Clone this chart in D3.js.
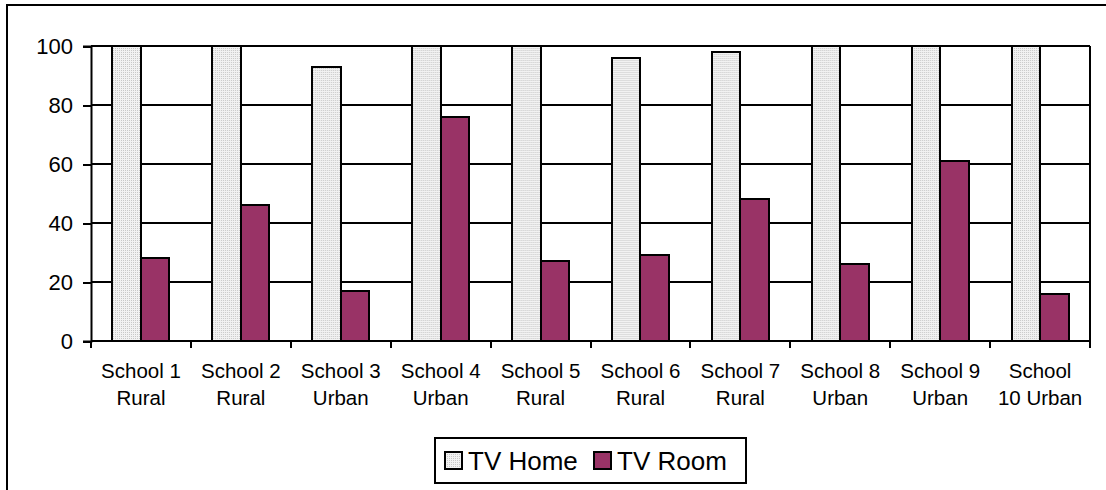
<!DOCTYPE html>
<html>
<head>
<meta charset="utf-8">
<title>TV Home / TV Room</title>
<script src="https://cdn.jsdelivr.net/npm/d3@7"></script>
<style>
html, body { margin: 0; background: #fff; }
body { font-family: "Liberation Sans", Arial, sans-serif; }
line, rect { shape-rendering: crispEdges; }
</style>
</head>
<body>
<svg width="1106" height="490"></svg>
<script>
// chart data
var categories = ["School 1 Rural", "School 2 Rural", "School 3 Urban", "School 4 Urban", "School 5 Rural",
                  "School 6 Rural", "School 7 Rural", "School 8 Urban", "School 9 Urban", "School 10 Urban"];
var categoryLines = [["School 1", "Rural"], ["School 2", "Rural"], ["School 3", "Urban"], ["School 4", "Urban"],
                     ["School 5", "Rural"], ["School 6", "Rural"], ["School 7", "Rural"], ["School 8", "Urban"],
                     ["School 9", "Urban"], ["School", "10 Urban"]];
var seriesNames = ["TV Home", "TV Room"];
var tvHome = [100, 100, 93, 100, 100, 96, 98, 100, 100, 100];
var tvRoom = [28, 46, 17, 76, 27, 29, 48, 26, 61, 16];
var yTicks = [0, 20, 40, 60, 80, 100];

var svg = d3.select("svg");
var plot = {left: 91, right: 1090, top: 46, bottom: 341};

// dotted light fill like the old excel pattern
var defs = svg.append("defs");
var pat = defs.append("pattern")
    .attr("id", "dots")
    .attr("width", 2).attr("height", 2)
    .attr("patternUnits", "userSpaceOnUse");
pat.append("rect").attr("width", 2).attr("height", 2).attr("fill", "#f2f2f2");
pat.append("rect").attr("width", 1).attr("height", 1).attr("fill", "#c8c8c8");

var colors = {"TV Home": "url(#dots)", "TV Room": "#993366"};

// outer chart border (runs off the picture on right and bottom)
svg.append("rect")
    .attr("x", 7).attr("y", 5)
    .attr("width", 1110).attr("height", 500)
    .attr("fill", "none").attr("stroke", "#000").attr("stroke-width", 2);

var x0 = d3.scaleBand().domain(categories).range([plot.left, plot.right]).padding(0);
var x1 = d3.scaleBand().domain(seriesNames).range([0, x0.bandwidth()]).paddingInner(0).paddingOuter(0.754);
var y = d3.scaleLinear().domain([0, 100]).range([plot.bottom, plot.top]);

// gridlines
svg.append("g").selectAll("line")
    .data(yTicks.filter(function(d) { return d > 0; }))
    .enter().append("line")
    .attr("x1", plot.left).attr("x2", plot.right)
    .attr("y1", function(d) { return y(d); })
    .attr("y2", function(d) { return y(d); })
    .attr("stroke", "#000").attr("stroke-width", 2);

// right border of plot area
svg.append("line")
    .attr("x1", plot.right).attr("x2", plot.right)
    .attr("y1", plot.top).attr("y2", plot.bottom)
    .attr("stroke", "#000").attr("stroke-width", 2);

var rows = categories.map(function(c, i) {
    return {cat: c, values: [{s: "TV Home", v: tvHome[i]}, {s: "TV Room", v: tvRoom[i]}]};
});

var groups = svg.append("g").selectAll("g")
    .data(rows)
    .enter().append("g")
    .attr("transform", function(d) { return "translate(" + x0(d.cat) + ",0)"; });

groups.selectAll("rect")
    .data(function(d) { return d.values; })
    .enter().append("rect")
    .attr("x", function(d) { return x1(d.s); })
    .attr("y", function(d) { return y(d.v); })
    .attr("width", x1.bandwidth())
    .attr("height", function(d) { return y(0) - y(d.v); })
    .attr("fill", function(d) { return colors[d.s]; })
    .attr("stroke", "#000").attr("stroke-width", 2);

// y axis
var yAxis = svg.append("g")
    .attr("transform", "translate(" + plot.left + ",0)")
    .call(d3.axisLeft(y).tickValues(yTicks).tickSize(8).tickPadding(10));
yAxis.selectAll("path, line").attr("stroke", "#000").attr("stroke-width", 2);
yAxis.selectAll("text").attr("font-size", 22).attr("fill", "#000")
    .attr("font-family", "Liberation Sans, Arial, sans-serif");

// x axis, ticks between categories
var xAxis = svg.append("g").attr("transform", "translate(0," + plot.bottom + ")");
xAxis.append("line")
    .attr("x1", plot.left).attr("x2", plot.right)
    .attr("stroke", "#000").attr("stroke-width", 2);
xAxis.selectAll("line.tick")
    .data(categories.concat(["end"]))
    .enter().append("line")
    .attr("class", "tick")
    .attr("x1", function(d, i) { return plot.left + i * x0.step(); })
    .attr("x2", function(d, i) { return plot.left + i * x0.step(); })
    .attr("y1", 0).attr("y2", 7)
    .attr("stroke", "#000").attr("stroke-width", 2);

var labels = xAxis.selectAll("text.cat")
    .data(categories)
    .enter().append("text")
    .attr("class", "cat")
    .attr("text-anchor", "middle")
    .attr("font-size", 20.5)
    .attr("fill", "#000")
    .attr("transform", function(d) { return "translate(" + (x0(d) + x0.bandwidth() / 2) + ",37)"; });
labels.selectAll("tspan")
    .data(function(d, i) { return categoryLines[i]; })
    .enter().append("tspan")
    .attr("x", 0)
    .attr("dy", function(d, i) { return i === 0 ? 0 : 27; })
    .text(function(d) { return d; });

// legend
var legend = svg.append("g").attr("transform", "translate(435,438)");
legend.append("rect")
    .attr("width", 311).attr("height", 45)
    .attr("fill", "#fff").attr("stroke", "#000").attr("stroke-width", 2);
var legX = [10, 159];
var item = legend.selectAll("g.item")
    .data(seriesNames)
    .enter().append("g")
    .attr("class", "item")
    .attr("transform", function(d, i) { return "translate(" + legX[i] + ",14)"; });
item.append("rect")
    .attr("width", 17).attr("height", 17)
    .attr("fill", function(d) { return colors[d]; })
    .attr("stroke", "#000").attr("stroke-width", 2);
item.append("text")
    .attr("x", 23).attr("y", 18)
    .attr("font-size", 26)
    .attr("fill", "#000")
    .text(function(d) { return d; });
</script>
</body>
</html>
